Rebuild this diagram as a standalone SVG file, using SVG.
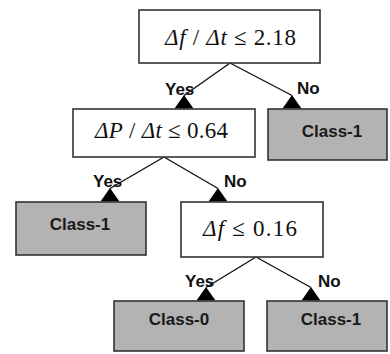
<svg xmlns="http://www.w3.org/2000/svg" width="390" height="354" viewBox="0 0 390 354">
<defs>
<style>
.box{fill:#ffffff;stroke:#333333;stroke-width:1.6}
.leaf{fill:#b3b3b3;stroke:#333333;stroke-width:1.6}
.math{font-family:"Liberation Serif","Times New Roman",serif;font-size:23px;fill:#111}
.lbl{font-family:"Liberation Sans",Arial,sans-serif;font-size:17px;font-weight:bold;fill:#111}
.cls{font-family:"Liberation Sans",Arial,sans-serif;font-size:17px;font-weight:bold;fill:#1a1a1a;text-anchor:middle}
.edge{stroke:#111;stroke-width:1.4;fill:none;marker-end:url(#tri)}
</style>
<marker id="tri" markerUnits="userSpaceOnUse" markerWidth="20" markerHeight="14" refX="9.5" refY="0.5" orient="0" overflow="visible">
<path d="M9.5,0 L19,13.5 L0,13.5 Z" fill="#000"/>
</marker>
</defs>
<g id="connectors">
<path class="edge" d="M230,63 L184,95.5"/>
<path class="edge" d="M230,63 L292,95.5"/>
<path class="edge" d="M164,157 L110,188.5"/>
<path class="edge" d="M164,157 L218,188.5"/>
<path class="edge" d="M256,257 L206,287.5"/>
<path class="edge" d="M256,257 L311,287.5"/>
<text class="lbl" x="165" y="95">Yes</text>
<text class="lbl" x="297" y="94">No</text>
<text class="lbl" x="93" y="187">Yes</text>
<text class="lbl" x="224" y="187">No</text>
<text class="lbl" x="185" y="287">Yes</text>
<text class="lbl" x="318" y="287">No</text>
</g>
<g id="root">
<rect class="box" x="139" y="10" width="181" height="53"/>
<text class="math" x="165" y="45" textLength="131" lengthAdjust="spacing"><tspan font-style="italic">Δf</tspan> / <tspan font-style="italic">Δt</tspan> ≤ 2.18</text>
</g>
<g id="node-dp">
<rect class="box" x="73" y="109" width="182" height="48"/>
<text class="math" x="95" y="138" textLength="133" lengthAdjust="spacing"><tspan font-style="italic">ΔP</tspan> / <tspan font-style="italic">Δt</tspan> ≤ 0.64</text>
</g>
<g id="leaf-1a">
<rect class="leaf" x="268" y="109" width="119" height="51"/>
<text class="cls" x="332" y="137">Class-1</text>
</g>
<g id="leaf-1b">
<rect class="leaf" x="16" y="202" width="130" height="53"/>
<text class="cls" x="80" y="230">Class-1</text>
</g>
<g id="node-df">
<rect class="box" x="181" y="202" width="142" height="55"/>
<text class="math" x="203" y="236" textLength="94" lengthAdjust="spacing"><tspan font-style="italic">Δf</tspan> ≤ 0.16</text>
</g>
<g id="leaf-0">
<rect class="leaf" x="114" y="301" width="130" height="50"/>
<text class="cls" x="179" y="325">Class-0</text>
</g>
<g id="leaf-1c">
<rect class="leaf" x="267" y="301" width="120" height="50"/>
<text class="cls" x="331" y="325">Class-1</text>
</g>
</svg>
